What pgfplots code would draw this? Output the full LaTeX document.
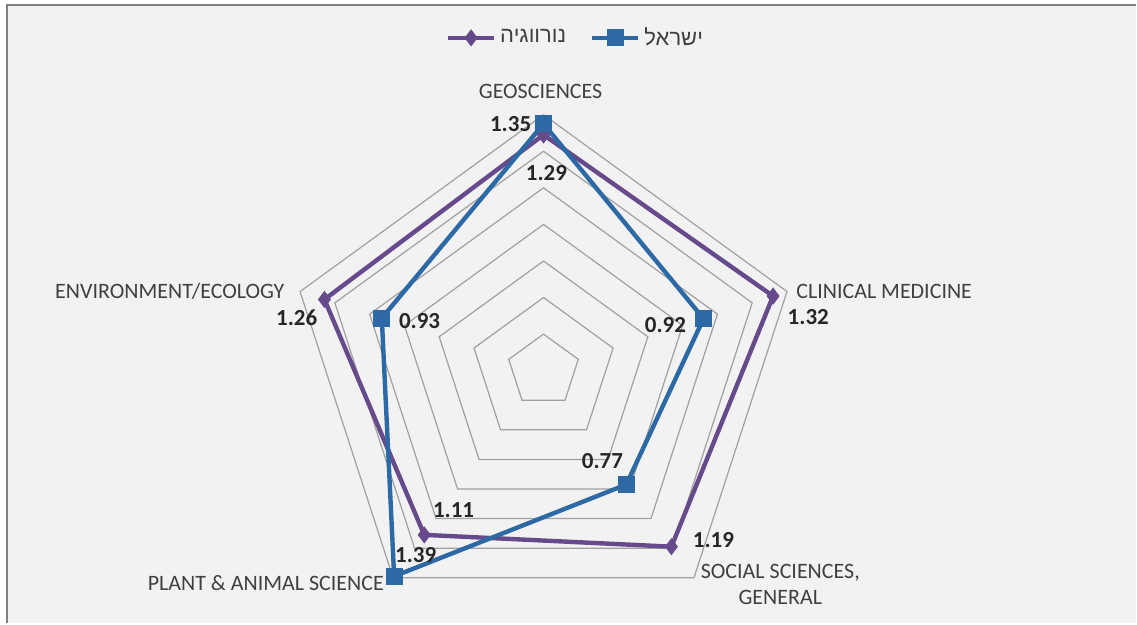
\documentclass[border=0pt]{standalone}
\usepackage{pgfplots}
\pgfplotsset{compat=1.18}
\usepackage{fontspec}
\setmainfont{Carlito}
\newfontfamily\heb[Script=Hebrew]{Liberation Sans}
\TeXXeTstate=1

\definecolor{nor}{RGB}{102,74,140}
\definecolor{isr}{RGB}{44,105,165}
\definecolor{gridc}{RGB}{160,160,160}
\definecolor{bg}{RGB}{242,242,242}
\definecolor{txt}{RGB}{64,64,64}

\begin{document}
\begin{tikzpicture}[cat/.style={text=txt, font=\fontsize{11}{13}\selectfont}]
\begin{axis}[
  scale only axis, width=568.5pt, height=312pt,
  xmin=-2.9727, xmax=3.2404, ymin=-1.3825, ymax=2.0273,
  hide axis, clip=false,
  data cs=polar,
  legend columns=2,
  legend style={at={(axis cs:0.18,1.82)}, anchor=center, draw=none, fill=none,
    font=\fontsize{11}{12}\selectfont, text=txt,
    /tikz/every even column/.append style={column sep=10pt}},
  legend image code/.code={\draw[mark repeat=2,mark phase=2,#1]
    plot coordinates {(0pt,0pt) (11.5pt,0pt) (23pt,0pt)};},
]
% background and frame
\fill[bg] (rel axis cs:0.00616,0) rectangle (rel axis cs:1,0.992);
\draw[gray, line width=1pt] (rel axis cs:0.00616,0) -- (rel axis cs:0.00616,0.992) -- (rel axis cs:1,0.992);
\path (rel axis cs:0,0) rectangle (rel axis cs:1,1);

% pentagon grid (0.2 ... 1.4)
\addplot[gridc, line width=0.6pt, forget plot] coordinates {(90,0.2) (18,0.2) (-54,0.2) (-126,0.2) (162,0.2) (90,0.2)};
\addplot[gridc, line width=0.6pt, forget plot] coordinates {(90,0.4) (18,0.4) (-54,0.4) (-126,0.4) (162,0.4) (90,0.4)};
\addplot[gridc, line width=0.6pt, forget plot] coordinates {(90,0.6) (18,0.6) (-54,0.6) (-126,0.6) (162,0.6) (90,0.6)};
\addplot[gridc, line width=0.6pt, forget plot] coordinates {(90,0.8) (18,0.8) (-54,0.8) (-126,0.8) (162,0.8) (90,0.8)};
\addplot[gridc, line width=0.6pt, forget plot] coordinates {(90,1.0) (18,1.0) (-54,1.0) (-126,1.0) (162,1.0) (90,1.0)};
\addplot[gridc, line width=0.6pt, forget plot] coordinates {(90,1.2) (18,1.2) (-54,1.2) (-126,1.2) (162,1.2) (90,1.2)};
\addplot[gridc, line width=0.6pt, forget plot] coordinates {(90,1.4) (18,1.4) (-54,1.4) (-126,1.4) (162,1.4) (90,1.4)};

% Norway
\addplot[nor, line width=2.2pt, mark=diamond*, mark size=2.5pt, mark options={solid}]
  coordinates {(90,1.29) (18,1.32) (-54,1.19) (-126,1.11) (162,1.26) (90,1.29)};
\addlegendentry{\heb\beginR נורווגיה\endR}
% Israel
\addplot[isr, line width=2.2pt, mark=square*, mark size=3.2pt, mark options={solid}]
  coordinates {(90,1.35) (18,0.92) (-54,0.77) (-126,1.39) (162,0.93) (90,1.35)};
\addlegendentry{\heb\beginR ישראל\endR}

% category labels
\node[cat] at (axis cs:-0.016,1.525) {GEOSCIENCES};
\node[cat] at (axis cs:1.863,0.432) {CLINICAL MEDICINE};
\node[cat, align=center] at (axis cs:1.295,-1.169) {SOCIAL SCIENCES,\\GENERAL};
\node[cat] at (axis cs:-1.519,-1.164) {PLANT \& ANIMAL SCIENCE};
\node[cat] at (axis cs:-2.044,0.432) {ENVIRONMENT/ECOLOGY};

% value labels
\begin{scope}[every node/.append style={font=\fontsize{11.5}{12}\selectfont\bfseries, text=black!85}]
\node at (axis cs:-0.180,1.350) {1.35};
\node at (axis cs:0.016,1.082) {1.29};
\node at (axis cs:1.448,0.295) {1.32};
\node at (axis cs:0.667,0.251) {0.92};
\node at (axis cs:-1.350,0.290) {1.26};
\node at (axis cs:-0.678,0.273) {0.93};
\node at (axis cs:0.322,-0.497) {0.77};
\node at (axis cs:-0.492,-0.765) {1.11};
\node at (axis cs:0.929,-0.929) {1.19};
\node at (axis cs:-0.699,-1.011) {1.39};
\end{scope}
\end{axis}
\end{tikzpicture}
\end{document}
